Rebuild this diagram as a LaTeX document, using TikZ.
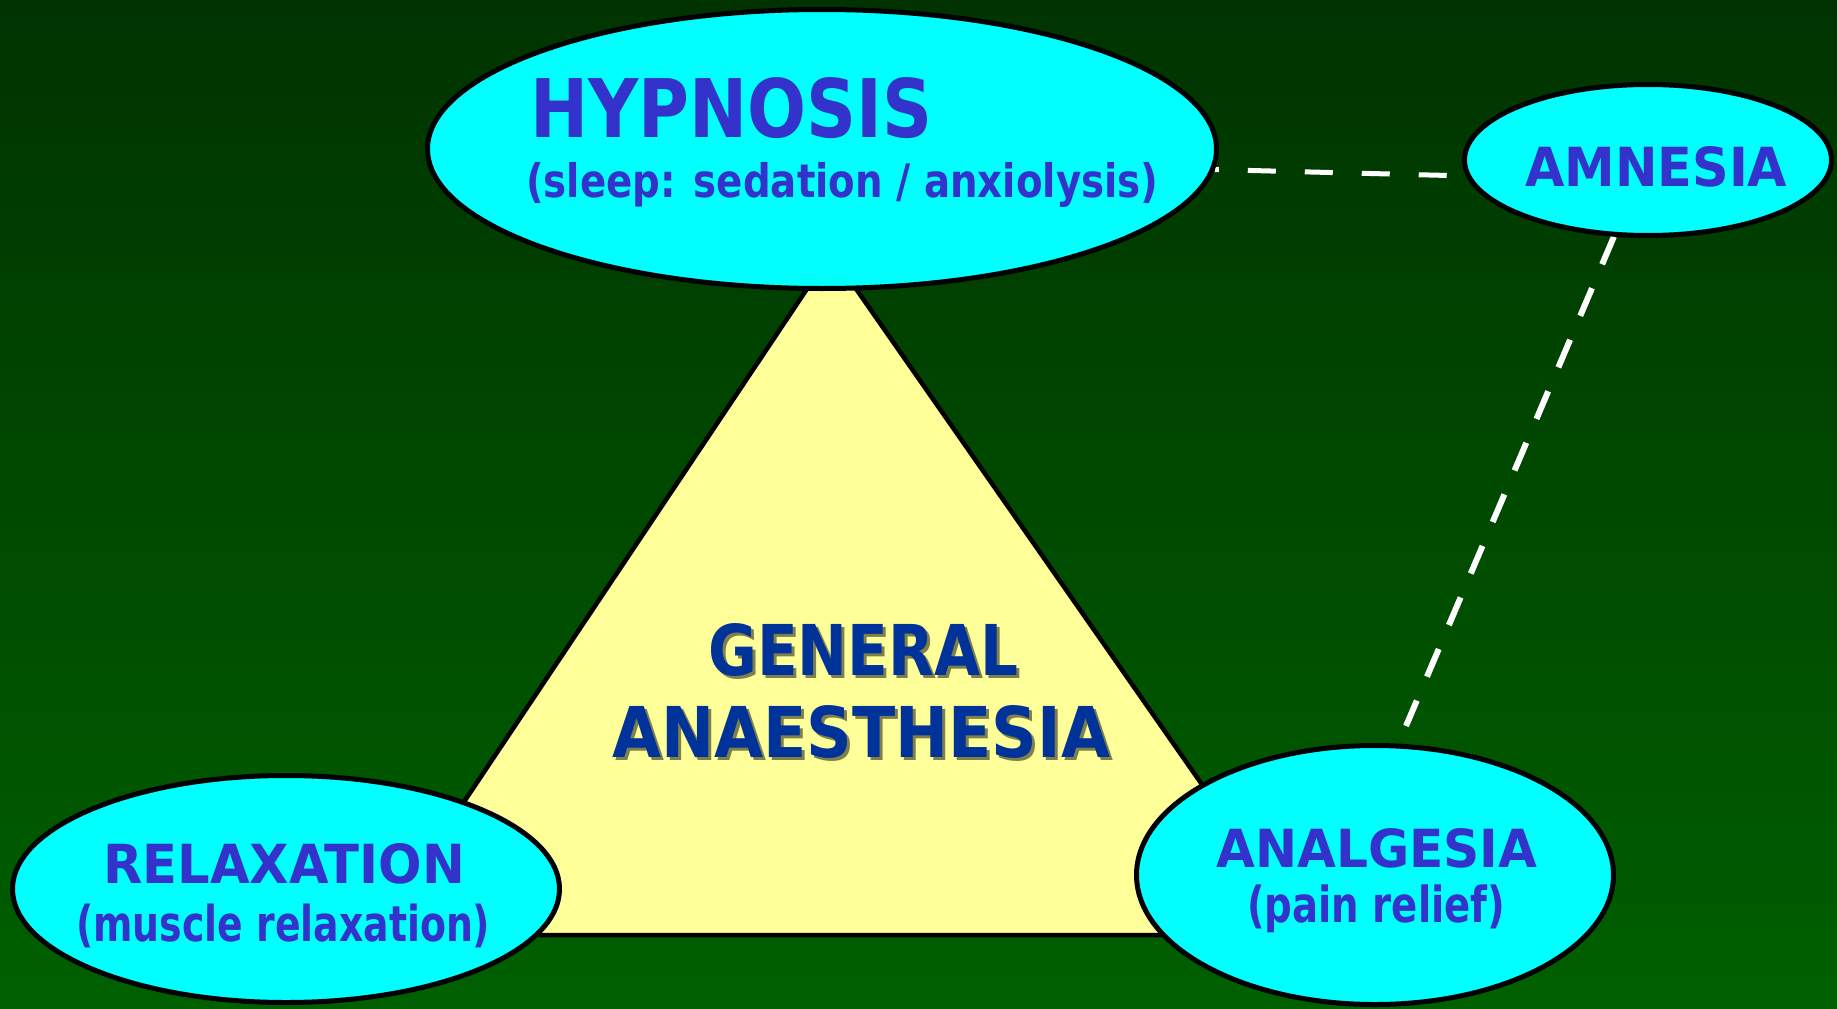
\documentclass[tikz,border=0pt]{standalone}
\usepackage{fontspec}
\usepackage{graphicx}
\setmainfont{DejaVu Sans}
\usetikzlibrary{shapes.geometric}
\definecolor{bgtop}{HTML}{003300}
\definecolor{bgbot}{HTML}{006000}
\definecolor{cyanfill}{HTML}{00FFFF}
\definecolor{txtblue}{HTML}{3333CC}
\definecolor{gablue}{HTML}{003399}
\definecolor{triyellow}{HTML}{FFFF99}
\newcommand\capsfit[3]{\resizebox{#1}{#2}{\bfseries #3}}
\newcommand\totfit[3]{\resizebox*{#1}{#2}{\bfseries #3}}
\pgfdeclarelayer{backlayer}
\pgfdeclarelayer{linelayer}
\pgfsetlayers{backlayer,linelayer,main}
\begin{document}
\begin{tikzpicture}[x=1pt,y=-1pt,
  bubble/.style={ellipse, draw=black, line width=5pt, fill=cyanfill, inner sep=0pt},
  conn/.style={draw=white, line width=6pt},
  txtlbl/.style={inner sep=0pt, text=txtblue},
  gatxt/.style={inner sep=0pt, text=gablue},
  gashadow/.style={inner sep=0pt, text=black, opacity=0.5},
 ]
\useasboundingbox (0,0) rectangle (1837,1009);
% ellipses
\node[bubble, minimum width=789pt, minimum height=279pt] (hyp) at (822,149) {};
\node[bubble, minimum width=367pt, minimum height=151pt] (amn) at (1648,160) {};
\node[bubble, minimum width=547pt, minimum height=227pt] (rel) at (286,889) {};
\node[bubble, minimum width=477pt, minimum height=259pt] (ana) at (1375,875) {};
\coordinate (anaTip) at (1406,726);
\begin{pgfonlayer}{backlayer}
  \shade[top color=bgtop, bottom color=bgbot] (0,0) rectangle (1837,1009);
  \coordinate (apex) at (831,253);
  \coordinate (bl) at (375,935);
  \coordinate (br) at (1307,935);
  \draw[line width=4.5pt, fill=triyellow] (apex) -- (bl) -- (br) -- cycle;
\end{pgfonlayer}
\begin{pgfonlayer}{linelayer}
  \draw[conn, line width=5pt, dash pattern=on 28pt off 29pt, dash phase=24pt] (hyp.-3.5) -- (amn.185);
  \draw[conn, dash pattern=on 30pt off 26pt] (amn.246) -- (anaTip);
\end{pgfonlayer}
% texts
\node[txtlbl, anchor=base west] (hypT) at (530,137) {\capsfit{402pt}{60pt}{HYPNOSIS}};
\node[txtlbl, anchor=north west] (hypS) at (526,162) {\totfit{632pt}{45pt}{(sleep: sedation / anxiolysis)}};
\node[txtlbl, anchor=base west] (amnT) at (1525,186) {\capsfit{262pt}{40pt}{AMNESIA}};
\node[txtlbl, anchor=base west] (relT) at (103,883) {\capsfit{362pt}{40pt}{RELAXATION}};
\node[txtlbl, anchor=north west] (relS) at (76,904) {\totfit{414pt}{44pt}{(muscle relaxation)}};
\node[txtlbl, anchor=base west] (anaT) at (1216,867) {\capsfit{321pt}{39pt}{ANALGESIA}};
\node[txtlbl, anchor=north west] (anaS) at (1247,885) {\totfit{258pt}{48pt}{(pain relief)}};
\node[gashadow, anchor=base west] (genSh) at (711,678) {\capsfit{310pt}{52pt}{GENERAL}};
\node[gashadow, anchor=base west] (anaeSh) at (615,760) {\capsfit{498pt}{52pt}{ANAESTHESIA}};
\node[gatxt, anchor=base west] (genT) at (708,675) {\capsfit{310pt}{52pt}{GENERAL}};
\node[gatxt, anchor=base west] (anaeT) at (612,757) {\capsfit{498pt}{52pt}{ANAESTHESIA}};
\end{tikzpicture}
\end{document}
